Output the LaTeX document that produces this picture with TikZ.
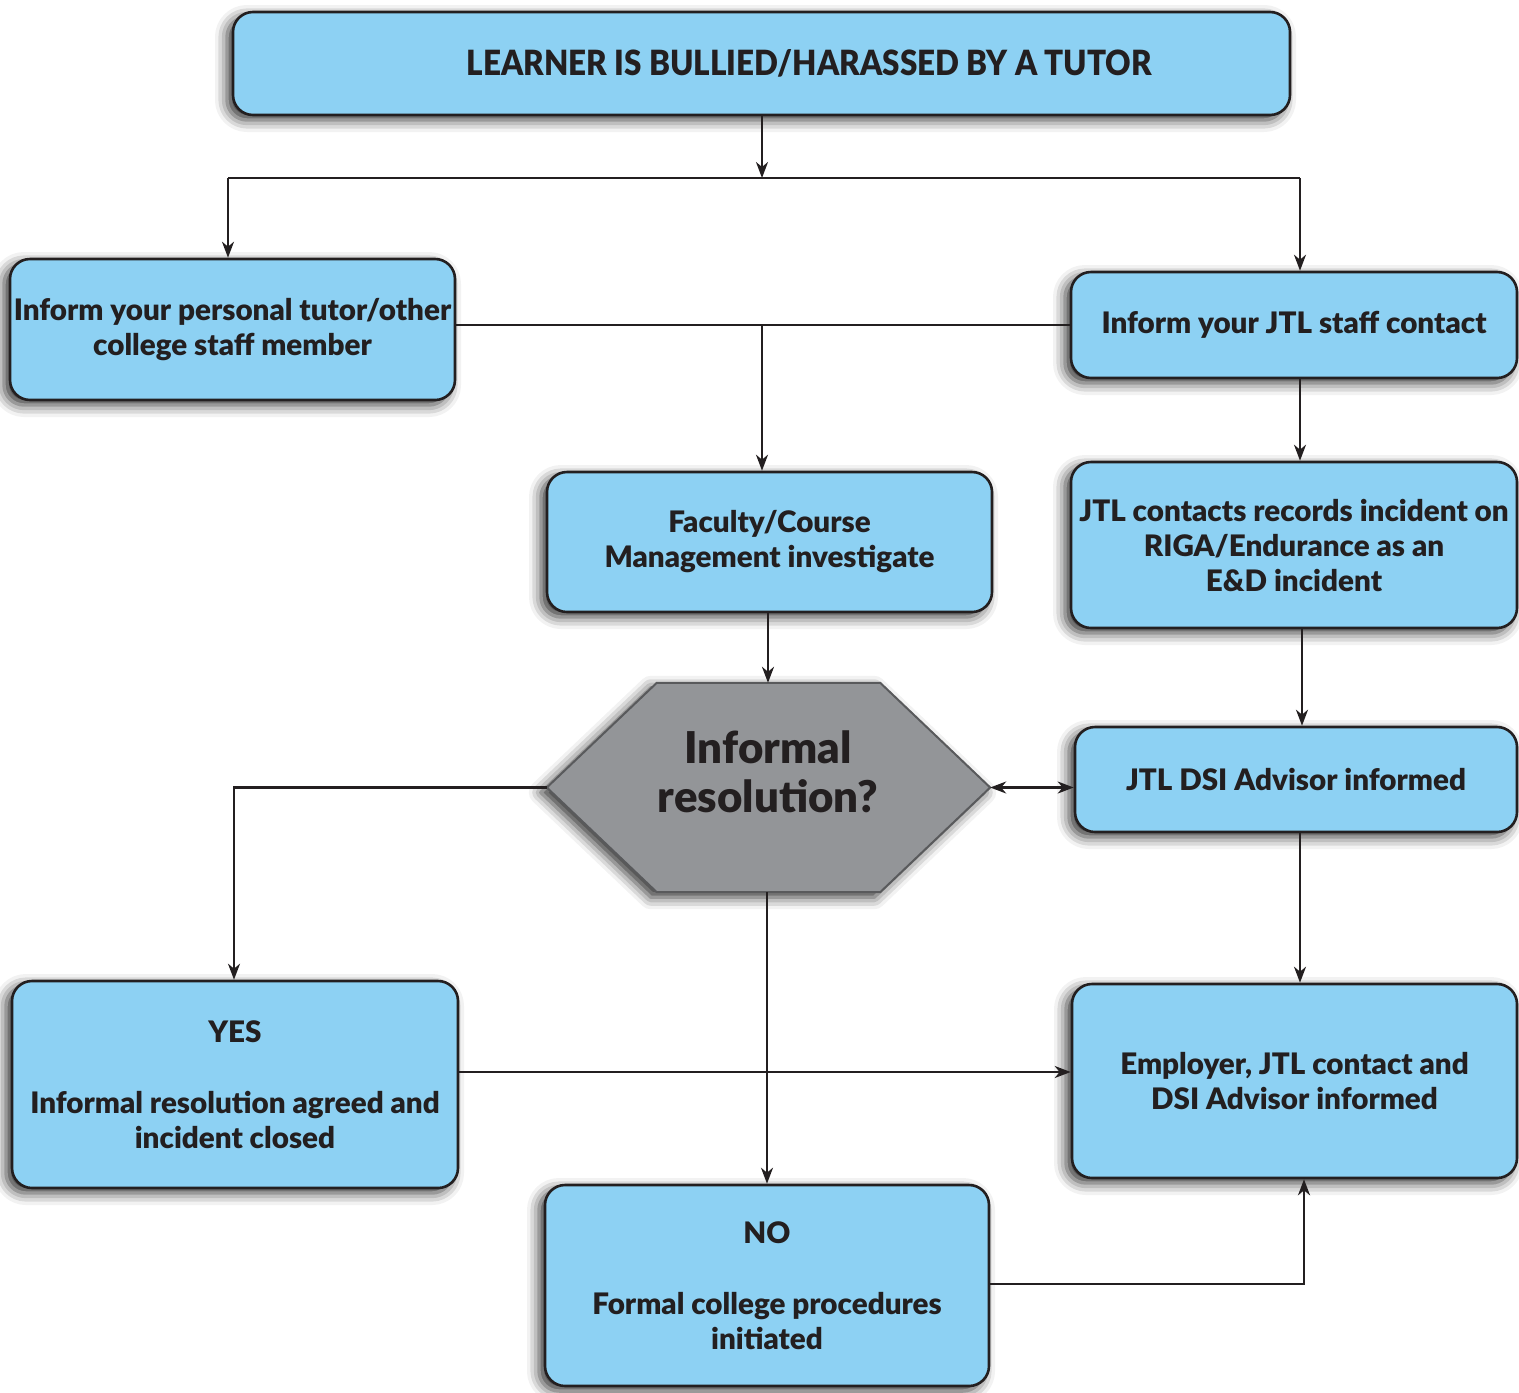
\documentclass[tikz,border=0pt]{standalone}
\usepackage{fontspec}
\setmainfont{Lato}[BoldFont={Lato Black}]
\usetikzlibrary{arrows.meta,shadows.blur,backgrounds}
\definecolor{boxblue}{RGB}{141,209,243}
\definecolor{ink}{RGB}{35,31,32}
\definecolor{hexfill}{RGB}{147,149,152}
\definecolor{hexline}{RGB}{89,90,92}
\begin{document}
\begin{tikzpicture}[x=1pt,y=-1pt,
  box/.style={draw=ink, line width=2.6pt, fill=boxblue, rounded corners=20pt,
    blur shadow={shadow xshift=-6pt, shadow yshift=-5pt, shadow blur radius=12pt, shadow opacity=80},
    text=ink, font=\fontsize{29.6}{35}\selectfont\bfseries, align=center, inner sep=0pt},
  conn/.style={draw=ink, line width=2.2pt, -{Stealth[length=16pt,width=12pt,inset=5pt]}},
  plain/.style={draw=ink, line width=2.2pt},
  hexshape/.style={draw=hexline, line width=2pt, fill=hexfill,
    blur shadow={shadow xshift=-6pt, shadow yshift=-5pt, shadow blur radius=12pt, shadow opacity=80}},
  hextext/.style={text=ink, font=\fontsize{43.8}{49}\selectfont\bfseries, align=center, inner sep=0pt}
]
\useasboundingbox (0,0) rectangle (1519,1393);

% boxes
\node[box, minimum width=1057pt, minimum height=103pt] (top) at (761.5,63.5) {};
\node[text=ink, inner sep=0pt] (toptext) at (809.5,63) {\resizebox{685pt}{26pt}{\bfseries LEARNER IS BULLIED/HARASSED BY A TUTOR}};
\node[box, minimum width=445pt, minimum height=141pt] (tutor) at (232.5,329.5) {Inform your personal tutor/other\\college staff member};
\node[box, minimum width=446pt, minimum height=106pt] (jtl) at (1294,325) {Inform your JTL staff contact};
\node[box, minimum width=445pt, minimum height=140pt] (fac) at (769.5,542) {Faculty/Course\\Management investigate};
\node[box, minimum width=446pt, minimum height=166pt] (rec) at (1294,545) {JTL contacts records incident on\\RIGA/Endurance as an\\E\&D incident};
\node[box, minimum width=442pt, minimum height=105pt] (dsi) at (1296,779.5) {JTL DSI Advisor informed};
\node[box, minimum width=446pt, minimum height=207pt] (yes) at (235,1084.5) {YES\\[36pt]Informal resolution agreed and\\incident closed};
\node[box, minimum width=445pt, minimum height=194pt] (emp) at (1294.5,1081) {Employer, JTL contact and\\DSI Advisor informed};
\node[box, minimum width=444pt, minimum height=201pt] (no) at (767,1285.5) {NO\\[36pt]Formal college procedures\\initiated};

% hexagon
\node[minimum width=443pt, minimum height=209pt, inner sep=0pt] (hex) at (768.5,787.5) {};
\begin{scope}[on background layer]
\path[hexshape] (hex.west) -- ([xshift=110pt]hex.north west) -- ([xshift=-110pt]hex.north east)
  -- (hex.east) -- ([xshift=-110pt]hex.south east) -- ([xshift=110pt]hex.south west) -- cycle;
\end{scope}
\node[hextext] (hextxt) at (768,772) {Informal\\resolution?};

% connector helper points
\coordinate (split) at (762,178);
\coordinate (splitL) at (228,178);
\coordinate (splitR) at (1300,178);
\coordinate (mid) at (762,325);
\coordinate (yesturn) at (234,787.5);
\coordinate (noturn) at (1304,1284);

% connectors
\draw[conn] (top.south -| split) -- (split);
\draw[plain] (splitL) -- (splitR);
\draw[conn] (splitL) -- (splitL |- tutor.north);
\draw[conn] (splitR) -- (splitR |- jtl.north);
\draw[plain] (tutor.east |- mid) -- (jtl.west |- mid);
\draw[conn] (mid) -- (mid |- fac.north);
\draw[conn] (jtl.south -| 1300,0) -- (rec.north -| 1300,0);
\draw[conn] (fac.south -| 768,0) -- (hex.north -| 768,0);
\draw[conn] (rec.south -| 1302,0) -- (dsi.north -| 1302,0);
\draw[conn, {Stealth[length=16pt,width=12pt,inset=5pt]}-{Stealth[length=16pt,width=12pt,inset=5pt]}] (hex.east) -- (dsi.west |- hex.east);
\draw[conn] (hex.west) -- (yesturn) -- (yesturn |- yes.north);
\draw[conn] (hex.south -| 767,0) -- (no.north -| 767,0);
\draw[conn] (yes.east |- 0,1072) -- (emp.west |- 0,1072);
\draw[conn] (dsi.south -| 1300,0) -- (emp.north -| 1300,0);
\draw[conn] (no.east |- noturn) -- (noturn) -- (noturn |- emp.south);
\end{tikzpicture}
\end{document}
